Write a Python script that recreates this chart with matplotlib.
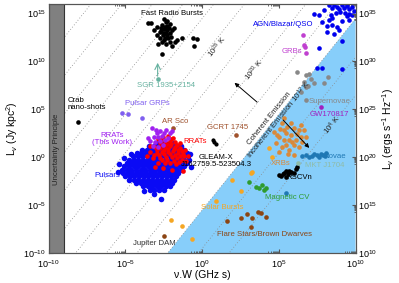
import numpy as np
import matplotlib.pyplot as plt

plt.rcParams.update({
    "font.family": ["Liberation Sans", "DejaVu Sans"],
    "mathtext.fontset": "custom",
    "mathtext.rm": "Liberation Sans",
    "mathtext.it": "Liberation Sans:italic",
    "mathtext.bf": "Liberation Sans:bold",
    "axes.linewidth": 0.8,
    "axes.edgecolor": "#555555",
})

# ── Data (log10 of nu*W [GHz s], log10 of L_nu [Jy kpc^2]) ──────────────────
FRB = [(-3.55, 14.0), (-3.35, 14.0), (-3.1, 13.3), (-2.9, 13.6), (-2.75, 13.1),
       (-2.6, 13.8), (-2.5, 13.4), (-2.35, 14.1), (-2.3, 13.3), (-2.25, 13.7),
       (-2.1, 13.9), (-2.55, 12.8), (-2.4, 12.5), (-2.25, 12.8), (-2.75, 12.5),
       (-2.95, 12.8), (-2.1, 13.0), (-1.95, 13.3), (-1.85, 13.5), (-2.6, 12.0),
       (-2.35, 11.8), (-2.1, 12.0), (-1.75, 12.0), (-1.6, 12.2), (-1.95, 11.6),
       (-2.85, 11.8), (-1.3, 12.4), (-0.6, 12.4), (-0.3, 12.3), (-0.5, 11.6),
       (-2.6, 10.8), (-2.45, 14.4), (-2.25, 14.2), (-2.7, 13.5), (-2.45, 13.0),
       (-2.2, 12.4), (-2.5, 12.2), (-2.0, 12.6), (-2.65, 13.2), (-2.4, 13.6),
       (-2.15, 13.45), (-2.35, 12.95)]
SGR = (-2.89, 8.17)
SGR_TOP = 10.15
CRAB = (-8.08, 3.68)
GRP = [(-5.23, 4.62), (-4.84, 4.52), (-3.93, 4.10)]
AR_SCO = (-1.92, 3.06)
GCRT = (2.24, 2.33)
JUPITER = (-2.5, -8.22)
GLEAM = [(0.72, 1.85), (0.81, 1.6), (0.9, 1.35)]

RRAT_NEW = [(-3.28, 3.06), (-2.95, 2.53), (-2.76, 2.74), (-2.37, 2.85), (-2.11, 2.53),
            (-3.15, 2.12), (-2.89, 2.12), (-2.63, 2.22), (-3.41, 1.7), (-3.08, 1.6),
            (-2.76, 1.7), (-2.44, 1.8), (-3.21, 1.18), (-2.89, 1.07), (-2.56, 1.28),
            (-2.24, 2.01), (-3.54, 2.01), (-1.98, 2.74), (-3.0, 2.85), (-2.5, 2.5)]

RRAT = [(-2.89, 1.91), (-2.56, 2.12), (-2.24, 2.22), (-1.92, 2.01), (-2.76, 1.49),
        (-2.44, 1.6), (-2.11, 1.7), (-1.79, 1.6), (-1.46, 1.49), (-3.08, 1.07),
        (-2.76, 0.97), (-2.44, 1.07), (-2.11, 1.18), (-1.79, 1.07), (-1.46, 0.97),
        (-1.14, 0.76), (-3.41, 0.55), (-2.95, 0.45), (-2.63, 0.55), (-2.24, 0.55),
        (-1.92, 0.66), (-1.59, 0.45), (-1.27, 0.34), (-0.94, 0.13), (-3.21, -0.08),
        (-2.76, -0.08), (-2.37, 0.03), (-1.98, 0.03), (-1.66, -0.08), (-1.33, -0.28),
        (-1.01, -0.39), (-2.89, -0.6), (-2.44, -0.6), (-2.11, -0.6), (-1.72, -0.7),
        (-3.41, 1.18), (-3.6, 0.13), (-2.56, -1.12), (-1.98, -1.33), (-1.27, -1.43),
        (-3.08, -1.01), (-2.6, 1.3), (-2.3, 1.35), (-2.0, 1.4), (-1.65, 1.3),
        (-2.9, 0.75), (-2.5, 0.8), (-2.2, 0.85), (-1.85, 0.85), (-1.55, 0.75),
        (-1.3, 0.6), (-3.1, 0.25), (-2.8, 0.2), (-2.45, 0.3), (-2.1, 0.3),
        (-1.75, 0.25), (-1.45, 0.15), (-1.15, 0.1), (-2.6, -0.3), (-2.25, -0.3),
        (-1.85, -0.35), (-1.5, -0.5), (-2.7, 1.75), (-2.0, 1.95)]

PSR_ROWS = [
    (1.5, [-3.0, -2.7, -2.4, -2.1, -1.8]),
    (1.15, [-3.45, -3.15, -2.85, -2.55, -2.25, -1.95, -1.65, -1.35]),
    (0.8, [-3.9, -3.6, -3.3, -3.0, -2.7, -2.4, -2.1, -1.8, -1.5, -1.2]),
    (0.45, [-4.25, -3.95, -3.65, -3.35, -3.05, -2.75, -2.45, -2.15, -1.85, -1.55, -1.25, -0.95]),
    (0.1, [-4.5, -4.2, -3.9, -3.6, -3.3, -3.0, -2.7, -2.4, -2.1, -1.8, -1.5, -1.2, -0.9]),
    (-0.25, [-4.75, -4.45, -4.15, -3.85, -3.55, -3.25, -2.95, -2.65, -2.35, -2.05, -1.75, -1.45, -1.15, -0.85]),
    (-0.6, [-4.9, -4.6, -4.3, -4.0, -3.7, -3.4, -3.1, -2.8, -2.5, -2.2, -1.9, -1.6, -1.3, -1.0]),
    (-0.95, [-5.05, -4.75, -4.45, -4.15, -3.85, -3.55, -3.25, -2.95, -2.65, -2.35, -2.05, -1.75, -1.45, -1.15]),
    (-1.3, [-5.2, -4.9, -4.6, -4.3, -4.0, -3.7, -3.4, -3.1, -2.8, -2.5, -2.2, -1.9, -1.6, -1.3]),
    (-1.65, [-5.15, -4.85, -4.55, -4.25, -3.95, -3.65, -3.35, -3.05, -2.75, -2.45, -2.15, -1.85, -1.55]),
    (-2.0, [-5.0, -4.7, -4.4, -4.1, -3.8, -3.5, -3.2, -2.9, -2.6, -2.3, -2.0, -1.7]),
    (-2.35, [-4.75, -4.45, -4.15, -3.85, -3.55, -3.25, -2.95, -2.65, -2.35, -2.05, -1.8]),
    (-2.7, [-4.3, -4.0, -3.7, -3.4, -3.1, -2.8, -2.5, -2.2, -1.95]),
    (-3.05, [-3.85, -3.55, -3.25, -2.95, -2.65, -2.35, -2.1]),
    (-3.4, [-3.4, -3.1, -2.8, -2.5]),
]
PSR_OUTLIERS = [(-5.1, -0.1), (-5.5, -1.5), (-5.4, -0.7), (-2.65, -4.4), (-3.15, -3.85),
                (-3.8, -3.5), (-0.7, -1.0), (-0.75, 0.3), (-4.6, 0.35)]

SOLAR = [(-2.05, -6.55), (-1.33, -7.17), (-0.62, -8.53), (0.94, -4.56), (1.98, -2.37),
         (2.56, -3.52), (3.21, -1.64), (3.28, -1.54), (4.38, 0.97), (4.58, 0.03)]
FLARE = [(1.66, -6.65), (2.56, -6.34), (2.95, -5.92), (3.28, -6.34), (3.67, -5.71),
         (3.86, -5.82), (4.19, -6.23), (3.21, -7.28)]
MCV = [(3.08, -2.58), (3.54, -3.1), (3.73, -3.21), (3.93, -2.89), (4.19, -3.21), (4.06, -3.42)]
RSCVN = [(5.03, -1.85), (5.15, -1.95), (5.36, -1.64), (5.49, -2.06), (5.49, -1.43),
         (5.62, -1.75), (5.81, -1.54), (6.01, -1.64), (6.14, -1.22), (6.2, -1.0),
         (5.25, -1.75), (5.7, -1.4)]
NOVAE = [(6.53, 0.13), (6.79, 0.24), (6.98, 0.03), (7.18, 0.13), (7.3, 0.3), (7.5, 0.24),
         (7.6, 0.05), (7.76, 0.34), (7.9, 0.2), (8.09, 0.45), (8.0, 0.1), (5.49, -3.73)]
MKT = (6.27, -0.6)
XRB = [(5.36, 4.1), (5.23, 3.58), (5.55, 3.16), (6.01, 3.06), (6.33, 2.85), (6.46, 3.37),
       (5.81, 2.33), (6.46, 2.12), (6.79, 2.12), (5.36, 1.8), (6.01, 0.24), (4.84, 1.49),
       (5.49, 1.28), (5.88, 1.6), (6.33, 1.07), (5.68, 0.76), (5.03, 0.55), (4.71, 2.64),
       (5.03, 2.12), (5.68, 1.8), (6.14, 1.8), (5.36, 2.85), (6.66, 2.85), (5.81, 3.58),
       (5.1, 3.0), (6.2, 2.4), (5.5, 2.5), (6.0, 1.3), (5.2, 1.1), (5.6, 0.3), (4.9, 2.3),
       (6.5, 1.6)]
SNE = [(6.2, 8.9), (6.79, 8.59), (6.98, 8.69), (7.11, 8.17), (6.66, 7.86), (8.21, 8.38),
       (7.96, 7.75), (6.92, 7.44), (6.46, 6.81), (6.79, 5.98), (7.31, 7.75), (6.79, 7.34)]
GW = (7.76, 5.25)
GRB = [(6.59, 12.76), (6.66, 11.72), (6.72, 11.51), (6.79, 10.89)]
AGN = [(7.31, 14.96), (7.63, 14.85), (7.96, 15.37), (8.28, 15.9), (8.47, 15.58), (8.6, 15.9),
       (8.8, 15.7), (8.93, 15.5), (9.12, 15.85), (9.25, 15.6), (9.45, 15.8), (9.58, 15.45),
       (9.77, 15.65), (9.0, 15.2), (9.3, 15.1), (9.6, 15.0), (8.7, 15.1), (9.45, 14.7),
       (9.8, 14.9), (8.4, 14.8), (7.82, 14.12), (8.15, 13.7), (8.47, 13.81), (8.15, 13.1),
       (8.93, 13.29), (8.6, 12.9), (8.8, 13.6), (9.1, 14.2), (9.6, 14.3), (8.3, 14.3),
       (9.12, 12.14), (7.63, 11.41), (7.5, 9.32), (7.82, 9.32), (9.12, 9.21), (8.5, 14.5),
       (9.9, 15.3)]

TEMPS_LINES = [1e4, 1e8, 1e12, 1e16, 1e20, 1e24, 1e28, 1e32, 1e36, 1e40, 1e44, 1e48, 1e52]
TEMPS_LABELS = [(1e28, 1.0, 11.5), (1e20, 3.41, 9.11), (1e4, 8.47, 3.37)]
T_COHERENT = 1e12

# brightness temperature: T = L * K / (nu W)^2
KPC = 3.086e19
K_B = 1.381e-23
TB_CONST = 1e-26 * KPC**2 / (2 * K_B * 1e18)


def lum(T, x):
    return T * x**2 / TB_CONST


def xy(pts):
    a = np.array(pts, dtype=float).reshape(-1, 2)
    return 10**a[:, 0], 10**a[:, 1]


fig = plt.figure(figsize=(3.99, 2.83), dpi=100)
ax = fig.add_axes([48.5 / 399, 30 / 283, 307 / 399, 249 / 283])
ax.set_xscale("log")
ax.set_yscale("log")
ax.set_xlim(1e-10, 1e10)
ax.set_ylim(1e-10, 1e16)

xx = np.logspace(-10, 10, 400)
ax.fill_between(xx, 1e-30, lum(T_COHERENT, xx), color="#87cefa", lw=0, zorder=0)
for T in TEMPS_LINES:
    ax.plot(xx, lum(T, xx), ls=(0, (1, 2.5)), color="#8a8a8a", lw=0.6, zorder=1)
ax.axvspan(1e-10, 1e-9, facecolor="#808080", edgecolor="#333333", lw=0.8, zorder=5)

# rotation of constant-T lines in screen space
p1 = ax.transData.transform((1.0, 1.0))
p2 = ax.transData.transform((10.0, 100.0))
ang = np.degrees(np.arctan2(p2[1] - p1[1], p2[0] - p1[0]))

S = 11
def dots(pts, c, z=3, s=S):
    x, y = xy(pts)
    ax.scatter(x, y, s=s, c=c, lw=0, zorder=z)

psr = [(lx, ly) for ly, row in PSR_ROWS for lx in row] + PSR_OUTLIERS
dots(psr, "#0a0af5", s=16)
dots(RRAT, "#ff0000", 4)
dots(RRAT_NEW, "#a020f0", 4)
dots(FRB, "black")
dots(GRP, "#7f5fef")
dots(CRAB, "black")
dots(AR_SCO, "#a0522d")
dots(GCRT, "#a0522d")
dots(JUPITER, "#8b4513")
dots(SOLAR, "#f5a623")
dots(FLARE, "#8b4513")
dots(MCV, "#2e9b2e")
dots(RSCVN, "black")
dots(NOVAE, "#1f78b4")
dots(MKT, "#8fbca8")
dots(XRB, "#d9893a")
dots(SNE, "#888888")
dots(GW, "#a020c0")
dots(GRB, "#c040d0")
dots(AGN, "#0000ee")
gx, gy = xy(GLEAM)
ax.plot(gx, gy, color="black", lw=1.0, marker="o", ms=2, zorder=4)

sx, sy = xy(SGR)
ax.scatter(sx, sy, s=S, c="#66b2a0", lw=0, zorder=4)
ax.annotate("", xy=(sx[0], 10**SGR_TOP), xytext=(sx[0], sy[0]),
            arrowprops=dict(arrowstyle="->", color="#66b2a0", lw=0.8), zorder=4)

# coherent / incoherent arrows
ax.annotate("", xy=(10**1.98, 10**7.96), xytext=(10**3.73, 10**5.56),
            arrowprops=dict(arrowstyle="-|>", color="black", lw=0.7,
                            mutation_scale=6), zorder=6)
ax.annotate("", xy=(10**7.11, 10**0.76), xytext=(10**5.16, 10**4.1),
            arrowprops=dict(arrowstyle="-|>", color="black", lw=0.7,
                            mutation_scale=6), zorder=6)

FS = 5.6
def lab(txt, lx, ly, c, **kw):
    ax.text(10**lx, 10**ly, txt, color=c, fontsize=kw.pop("fs", FS),
            ha=kw.pop("ha", "center"), va="center", zorder=7, **kw)

lab("Fast Radio Bursts", -1.98, 15.0, "black")
lab("SGR 1935+2154", -2.37, 7.54, "#66b2a0")
lab("Crab\nnano-shots", -8.73, 5.56, "black", ha="left", linespacing=1.0)
lab("Pulsar GRPs", -3.53, 5.56, "#7f5fef")
lab("AR Sco", -1.72, 3.68, "#a0522d")
lab("RRATs\n(This Work)", -5.87, 1.91, "#a020f0", linespacing=1.0)
lab("RRATs", -0.42, 1.6, "#ff0000")
lab("GLEAM-X\nJ162759.5-523504.3", 0.94, -0.39, "black", linespacing=1.0)
lab("GCRT 1745", 1.66, 3.06, "#a0522d")
lab("Pulsars", -6.14, -1.95, "#0a0af5")
lab("Jupiter DAM", -3.08, -9.05, "#333333")
lab("Solar Bursts", 1.33, -5.29, "#f5a623")
lab("Magnetic CV", 5.55, -4.25, "#2e9b2e")
lab("Flare Stars/Brown Dwarves", 4.06, -8.11, "#8b4513")
lab("XRBs", 5.1, -0.7, "#d9893a")
lab("RSCVn", 6.33, -2.16, "black")
lab("Novae", 8.67, 0.03, "#1f78b4")
lab("MKT J1704", 8.02, -0.91, "#8fbca8")
lab("Supernovae", 8.34, 5.77, "#888888")
lab("GW170817", 8.28, 4.41, "#a020c0")
lab("GRBs", 5.88, 10.99, "#c040d0")
lab("AGN/Blazar/QSO", 5.29, 13.91, "#0000ee")
lab("Uncertainty Principle", -9.5, 0.86, "#222222", rotation=90)
for T, lx, ly in TEMPS_LABELS:
    lab(r"$10^{%d}$ K" % round(np.log10(T)), lx, ly, "#222222", rotation=ang)
lab("Coherent Emission", 4.38, 4.1, "#222222", rotation=ang)
lab(r"Incoherent Emission $10^{12}$ K", 4.97, 3.89, "#222222", rotation=ang)

# ── Axes styling ──────────────────────────────────────────────────────────────
xmaj = [1e-10, 1e-5, 1e0, 1e5, 1e10]
ymaj = [1e-10, 1e-5, 1e0, 1e5, 1e10, 1e15]
def minors(maj):
    return [m * t / 10 for t in maj for m in range(2, 10)]

ax.set_xticks(xmaj)
ax.set_xticks(minors(xmaj), minor=True)
ax.set_yticks(ymaj)
ax.set_yticks(minors(ymaj), minor=True)
ax.set_xticklabels([], minor=True)
ax.set_yticklabels([], minor=True)
ax.tick_params(which="both", direction="in", top=True, labelsize=6.5,
               color="#555555", pad=2)
ax.tick_params(axis="x", which="major", pad=3.5)
ax.tick_params(which="major", length=3)
ax.tick_params(which="minor", length=1.5)
ax.set_xlim(1e-10, 1e10)
ax.set_ylim(1e-10, 1e16)
ax.set_xlabel("ν.W (GHz s)", fontsize=7.5, labelpad=0)
ax.set_ylabel(r"L$_{\nu}$ (Jy kpc$^{2}$)", fontsize=7.5, labelpad=2)

ax2 = ax.twinx()
ax2.set_yscale("log")
ax2.set_ylim(1e10, 1e36)
rmaj = [1e10, 1e15, 1e20, 1e25, 1e30, 1e35]
ax2.set_yticks(rmaj)
ax2.set_yticks(minors(rmaj), minor=True)
ax2.set_yticklabels([], minor=True)
ax2.tick_params(which="both", direction="in", labelsize=6.5, color="#555555", pad=2)
ax2.tick_params(which="major", length=3)
ax2.tick_params(which="minor", length=1.5)
ax2.set_ylim(1e10, 1e36)
ax2.set_ylabel(r"L$_{\nu}$ (ergs s$^{-1}$ Hz$^{-1}$)", fontsize=7.5, labelpad=2)

fig.savefig("out.png", dpi=100)
